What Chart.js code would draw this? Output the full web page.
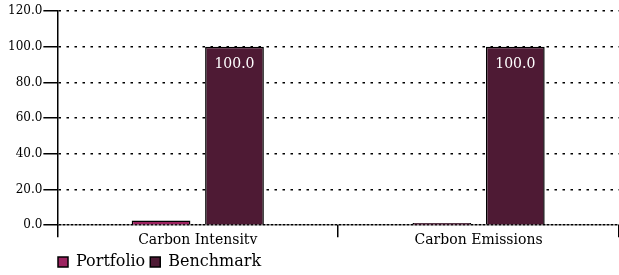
<!DOCTYPE html>
<html>
<head>
<meta charset="utf-8">
<script src="https://cdn.jsdelivr.net/npm/chart.js@4/dist/chart.umd.min.js"></script>
<style>
  html, body { margin: 0; padding: 0; background: #fff; }
  #wrap { width: 619px; height: 275px; }
</style>
</head>
<body>
<div id="wrap"><canvas id="chart"></canvas></div>
<script>
var categories = ["Carbon Intensity", "Carbon Emissions"];
var portfolio = [2.6, 1.2];
var benchmark = [100.0, 100.0];
var yTicks = [0, 20, 40, 60, 80, 100, 120];

var serif = "'DejaVu Serif', 'Liberation Serif', serif";

// white value labels inside the tall bars
var barLabels = {
    id: 'barLabels',
    afterDatasetsDraw: function(chart) {
        var ctx = chart.ctx;
        ctx.save();
        ctx.fillStyle = '#fff';
        ctx.font = '14px ' + serif;
        ctx.textAlign = 'center';
        ctx.textBaseline = 'middle';
        chart.data.datasets.forEach(function(ds, i) {
            chart.getDatasetMeta(i).data.forEach(function(bar, j) {
                if (ds.data[j] < 10) return;
                ctx.fillText(ds.data[j].toFixed(1), bar.x, bar.y + 18);
            });
        });
        ctx.restore();
    }
};

// shift legend so it starts under the y axis
var legendShift = {
    id: 'legendShift',
    afterLayout: function(chart) {
        chart.legend.left += 46;
        chart.legend.right += 46;
        chart.legend.top += 5;
        chart.legend.bottom += 5;
    }
};

new Chart(document.getElementById('chart'), {
    type: 'bar',
    data: {
        labels: categories,
        datasets: [{
            label: 'Portfolio',
            data: portfolio,
            backgroundColor: '#9c2360',
            borderColor: '#000',
            borderWidth: 1.5,
            categoryPercentage: 0.523,
            barPercentage: 0.8
        }, {
            label: 'Benchmark',
            data: benchmark,
            backgroundColor: '#4e1a34',
            borderColor: '#000',
            borderWidth: 1.5,
            categoryPercentage: 0.523,
            barPercentage: 0.8
        }]
    },
    options: {
        responsive: true,
        maintainAspectRatio: false,
        animation: false,
        layout: { padding: { top: 11, right: 0, left: 7, bottom: 0 } },
        plugins: {
            tooltip: { enabled: false },
            legend: {
                position: 'bottom',
                align: 'start',
                labels: {
                    color: '#000',
                    font: { family: serif, size: 16 },
                    boxWidth: 10,
                    boxHeight: 10,
                    padding: 5
                }
            }
        },
        scales: {
            x: {
                offset: true,
                grid: {
                    offset: true,
                    drawOnChartArea: false,
                    color: '#000',
                    tickLength: 12,
                    lineWidth: 1.5
                },
                border: { display: false },
                ticks: {
                    color: '#000',
                    font: { family: serif, size: 14 },
                    padding: -5
                }
            },
            y: {
                min: 0,
                max: 120,
                afterBuildTicks: function(axis) {
                    axis.ticks = yTicks.map(function(v) { return { value: v }; });
                },
                grid: {
                    color: '#000',
                    lineWidth: 1.5,
                    tickLength: 14,
                    tickColor: '#000',
                    tickBorderDash: []
                },
                border: {
                    color: '#000',
                    width: 1.5,
                    dash: function(c) { return c.tick && c.tick.value === 0 ? [3, 1] : [2.5, 5.5]; }
                },
                ticks: {
                    color: '#000',
                    padding: 1,
                    font: { family: serif, size: 12 },
                    callback: function(v) { return v.toFixed(1); }
                }
            }
        }
    },
    plugins: [barLabels, legendShift]
});
</script>
</body>
</html>
